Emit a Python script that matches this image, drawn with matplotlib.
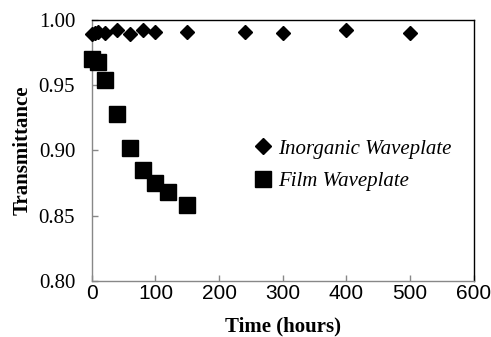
import matplotlib
matplotlib.use("Agg")
import matplotlib.pyplot as plt

# Inorganic waveplate (diamonds)
inorg_t = [0, 5, 10, 20, 40, 60, 80, 100, 150, 240, 300, 400, 500]
inorg_T = [0.989, 0.990, 0.991, 0.990, 0.992, 0.989, 0.992, 0.991, 0.991, 0.991, 0.990, 0.992, 0.990]

# Film waveplate (squares)
film_t = [0, 10, 20, 40, 60, 80, 100, 120, 150]
film_T = [0.970, 0.968, 0.954, 0.928, 0.902, 0.885, 0.875, 0.868, 0.858]

xticks = [0, 100, 200, 300, 400, 500, 600]
yticks = [0.80, 0.85, 0.90, 0.95, 1.00]

fig = plt.figure(figsize=(4.91, 3.37), dpi=100)
ax = fig.add_axes([0.187, 0.166, 0.778, 0.775])

ax.plot(inorg_t, inorg_T, 'D', color='black', markersize=7.5, linestyle='none',
        label='Inorganic Waveplate', clip_on=False, zorder=3)
ax.plot(film_t, film_T, 's', color='black', markersize=12, linestyle='none',
        label='Film Waveplate', clip_on=False, zorder=3)

ax.set_xlim(0, 600)
ax.set_ylim(0.80, 1.00)
ax.set_xticks(xticks)
ax.set_yticks(yticks)
ax.set_yticklabels(['%.2f' % v for v in yticks], fontfamily='Liberation Serif', fontsize=15)
ax.set_xticklabels([str(v) for v in xticks], fontfamily='Liberation Sans', fontsize=15)
ax.tick_params(direction='in', length=4, color='#888888', width=1)
ax.tick_params(axis='x', pad=2)
ax.tick_params(axis='y', pad=12)

for s in ['left', 'bottom']:
    ax.spines[s].set_color('#888888')
for s in ['top', 'right']:
    ax.spines[s].set_color('black')
for s in ax.spines.values():
    s.set_linewidth(1)

ax.set_xlabel('Time (hours)', fontfamily='Liberation Serif', fontweight='bold', fontsize=15, labelpad=10)
ax.set_ylabel('Transmittance', fontfamily='Liberation Serif', fontweight='bold', fontsize=15, labelpad=4)

leg = ax.legend(loc='upper left', bbox_to_anchor=(0.373, 0.615), frameon=False,
                prop={'family': 'Liberation Serif', 'style': 'italic', 'size': 15},
                handletextpad=0.2, labelspacing=0.6, handlelength=1.0)
leg.legend_handles[0].set_markersize(8)
leg.legend_handles[1].set_markersize(11)

fig.savefig('out.png', dpi=100)
